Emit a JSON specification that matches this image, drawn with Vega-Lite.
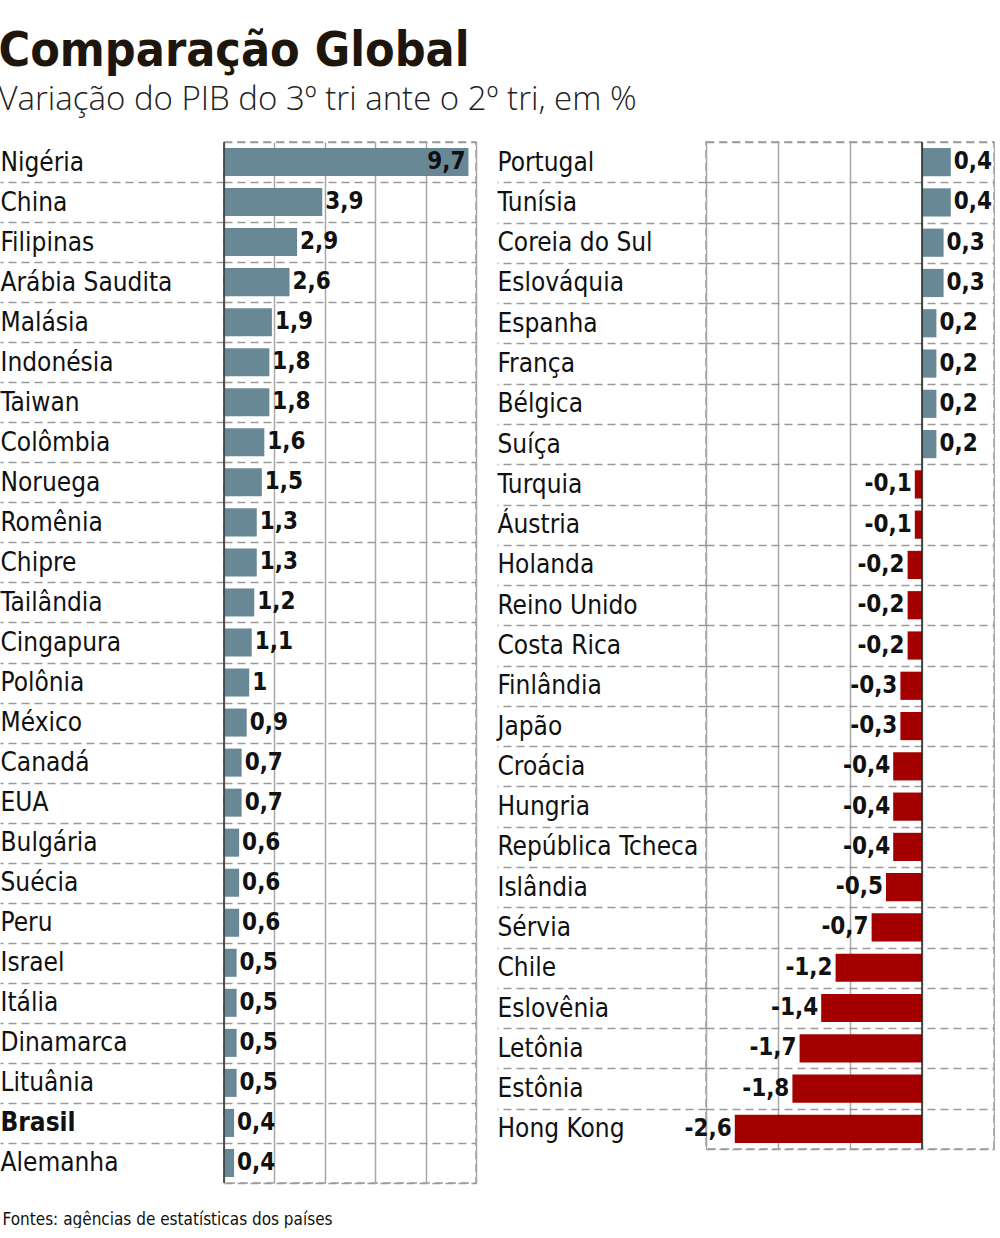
{
  "$schema": "https://vega.github.io/schema/vega-lite/v6.json",
  "padding": {"left": -2, "top": 28, "right": 0, "bottom": 0},
  "background": "white",
  "title": {
    "text": "Comparação Global",
    "subtitle": "Variação do PIB do 3º tri ante o 2º tri, em %",
    "anchor": "start",
    "frame": "bounds",
    "font": "DejaVu Sans Condensed",
    "fontSize": 48,
    "fontWeight": "bold",
    "color": "#1e160d",
    "subtitleFont": "Open Sans",
    "subtitleFontSize": 33,
    "subtitleFontWeight": 300,
    "subtitleColor": "#222222",
    "subtitlePadding": 8,
    "offset": 11
  },
  "config": {
    "view": {"stroke": "#9a9a9a", "strokeWidth": 1.5, "strokeDash": [8, 5]},
    "concat": {"spacing": 18}
  },
  "datasets": {
    "esq": [
      {"pais": "Nigéria", "v": 9.7},
      {"pais": "China", "v": 3.9},
      {"pais": "Filipinas", "v": 2.9},
      {"pais": "Arábia Saudita", "v": 2.6},
      {"pais": "Malásia", "v": 1.9},
      {"pais": "Indonésia", "v": 1.8},
      {"pais": "Taiwan", "v": 1.8},
      {"pais": "Colômbia", "v": 1.6},
      {"pais": "Noruega", "v": 1.5},
      {"pais": "Romênia", "v": 1.3},
      {"pais": "Chipre", "v": 1.3},
      {"pais": "Tailândia", "v": 1.2},
      {"pais": "Cingapura", "v": 1.1},
      {"pais": "Polônia", "v": 1},
      {"pais": "México", "v": 0.9},
      {"pais": "Canadá", "v": 0.7},
      {"pais": "EUA", "v": 0.7},
      {"pais": "Bulgária", "v": 0.6},
      {"pais": "Suécia", "v": 0.6},
      {"pais": "Peru", "v": 0.6},
      {"pais": "Israel", "v": 0.5},
      {"pais": "Itália", "v": 0.5},
      {"pais": "Dinamarca", "v": 0.5},
      {"pais": "Lituânia", "v": 0.5},
      {"pais": "Brasil", "v": 0.4},
      {"pais": "Alemanha", "v": 0.4}
    ],
    "dir": [
      {"pais": "Portugal", "v": 0.4},
      {"pais": "Tunísia", "v": 0.4},
      {"pais": "Coreia do Sul", "v": 0.3},
      {"pais": "Eslováquia", "v": 0.3},
      {"pais": "Espanha", "v": 0.2},
      {"pais": "França", "v": 0.2},
      {"pais": "Bélgica", "v": 0.2},
      {"pais": "Suíça", "v": 0.2},
      {"pais": "Turquia", "v": -0.1},
      {"pais": "Áustria", "v": -0.1},
      {"pais": "Holanda", "v": -0.2},
      {"pais": "Reino Unido", "v": -0.2},
      {"pais": "Costa Rica", "v": -0.2},
      {"pais": "Finlândia", "v": -0.3},
      {"pais": "Japão", "v": -0.3},
      {"pais": "Croácia", "v": -0.4},
      {"pais": "Hungria", "v": -0.4},
      {"pais": "República Tcheca", "v": -0.4},
      {"pais": "Islândia", "v": -0.5},
      {"pais": "Sérvia", "v": -0.7},
      {"pais": "Chile", "v": -1.2},
      {"pais": "Eslovênia", "v": -1.4},
      {"pais": "Letônia", "v": -1.7},
      {"pais": "Estônia", "v": -1.8},
      {"pais": "Hong Kong", "v": -2.6}
    ]
  },
  "hconcat": [
    {
      "width": 252,
      "height": 1041,
      "data": {"name": "esq"},
      "transform": [
        {"calculate": "replace(replace(format(datum.v, '~g'), '.', ','), '\u2212', '-')", "as": "rotulo"}
      ],
      "layer": [
        {
          "mark": {"type": "bar", "color": "#688896", "height": {"band": 0.7}},
          "encoding": {
            "y": {
              "field": "pais", "type": "nominal", "sort": null,
              "scale": {"paddingInner": 0, "paddingOuter": 0},
              "axis": {
                "title": null, "domain": false,
                "tickBand": "extent", "tickSize": 224, "tickColor": "#9a9a9a", "tickWidth": 1.5, "tickDash": [8, 5],
                "tickOpacity": {"condition": {"test": "!isValid(datum.value) || datum.value === 'Alemanha'", "value": 0}, "value": 1},
                "labelPadding": 0, "labelAlign": "left", "labelFont": "DejaVu Sans Condensed", "labelFontSize": 26,
                "labelColor": "#111111", "labelLimit": 0,
                "labelFontWeight": {"condition": {"test": "datum.value === 'Brasil'", "value": "bold"}, "value": "normal"},
                "grid": true, "gridColor": "#9a9a9a", "gridDash": [8, 5], "gridWidth": 1.5
              }
            },
            "x": {
              "field": "v", "type": "quantitative",
              "scale": {"domain": [0, 10], "nice": false, "zero": true},
              "axis": {
                "values": [0, 2, 4, 6, 8, 10], "labels": false, "ticks": false, "domain": false,
                "grid": true, "gridColor": "#a8a8a8", "gridWidth": 1.5, "gridDash": [],
                "title": "Fontes: agências de estatísticas dos países",
                "titleFont": "DejaVu Sans Condensed", "titleFontSize": 17, "titleFontWeight": "normal",
                "titleColor": "#111111", "titleAlign": "left", "titleAnchor": "start", "titleX": -222,
                "titlePadding": 28, "titleBaseline": "top"
              }
            }
          }
        },
        {
          "data": {"values": [{}]},
          "mark": {"type": "rule", "color": "#333333", "strokeWidth": 1.5},
          "encoding": {"x": {"datum": 0, "type": "quantitative"}}
        },
        {
          "transform": [{"filter": "datum.v < 9"}],
          "mark": {"type": "text", "align": "left", "baseline": "middle", "dx": 3, "font": "DejaVu Sans Condensed", "fontWeight": "bold", "fontSize": 24, "color": "#111111"},
          "encoding": {
            "y": {"field": "pais", "type": "nominal", "sort": null},
            "x": {"field": "v", "type": "quantitative"},
            "text": {"field": "rotulo"}
          }
        },
        {
          "transform": [{"filter": "datum.v >= 9"}],
          "mark": {"type": "text", "align": "right", "baseline": "middle", "dx": -3, "font": "DejaVu Sans Condensed", "fontWeight": "bold", "fontSize": 24, "color": "#111111"},
          "encoding": {
            "y": {"field": "pais", "type": "nominal", "sort": null},
            "x": {"field": "v", "type": "quantitative"},
            "text": {"field": "rotulo"}
          }
        }
      ]
    },
    {
      "width": 288,
      "height": 1007,
      "data": {"name": "dir"},
      "transform": [
        {"calculate": "replace(replace(format(datum.v, '~g'), '.', ','), '\u2212', '-')", "as": "rotulo"}
      ],
      "layer": [
        {
          "mark": {"type": "bar", "height": {"band": 0.7}},
          "encoding": {
            "y": {
              "field": "pais", "type": "nominal", "sort": null,
              "scale": {"paddingInner": 0, "paddingOuter": 0},
              "axis": {
                "title": null, "domain": false,
                "tickBand": "extent", "tickSize": 209, "tickColor": "#9a9a9a", "tickWidth": 1.5, "tickDash": [8, 5],
                "tickOpacity": {"condition": {"test": "!isValid(datum.value) || datum.value === 'Hong Kong'", "value": 0}, "value": 1},
                "labelPadding": 0, "labelAlign": "left", "labelFont": "DejaVu Sans Condensed", "labelFontSize": 26,
                "labelColor": "#111111", "labelLimit": 0,
                "grid": true, "gridColor": "#9a9a9a", "gridDash": [8, 5], "gridWidth": 1.5
              }
            },
            "x": {
              "field": "v", "type": "quantitative",
              "scale": {"domain": [-3, 1], "nice": false},
              "axis": {
                "values": [-3, -2.5, -2, -1.5, -1, -0.5, 0, 0.5, 1], "labels": false, "ticks": false, "domain": false,
                "grid": true, "gridColor": "#a8a8a8", "gridWidth": 1.5, "gridDash": [], "title": null
              }
            },
            "color": {"condition": {"test": "datum.v < 0", "value": "#a50000"}, "value": "#688896"}
          }
        },
        {
          "data": {"values": [{}]},
          "mark": {"type": "rule", "color": "#222222", "strokeWidth": 1.5},
          "encoding": {"x": {"datum": 0, "type": "quantitative"}}
        },
        {
          "transform": [{"filter": "datum.v >= 0"}],
          "mark": {"type": "text", "align": "left", "baseline": "middle", "dx": 3, "font": "DejaVu Sans Condensed", "fontWeight": "bold", "fontSize": 24, "color": "#111111"},
          "encoding": {
            "y": {"field": "pais", "type": "nominal", "sort": null},
            "x": {"field": "v", "type": "quantitative"},
            "text": {"field": "rotulo"}
          }
        },
        {
          "transform": [{"filter": "datum.v < 0"}],
          "mark": {"type": "text", "align": "right", "baseline": "middle", "dx": -3, "font": "DejaVu Sans Condensed", "fontWeight": "bold", "fontSize": 24, "color": "#111111"},
          "encoding": {
            "y": {"field": "pais", "type": "nominal", "sort": null},
            "x": {"field": "v", "type": "quantitative"},
            "text": {"field": "rotulo"}
          }
        }
      ]
    }
  ]
}
